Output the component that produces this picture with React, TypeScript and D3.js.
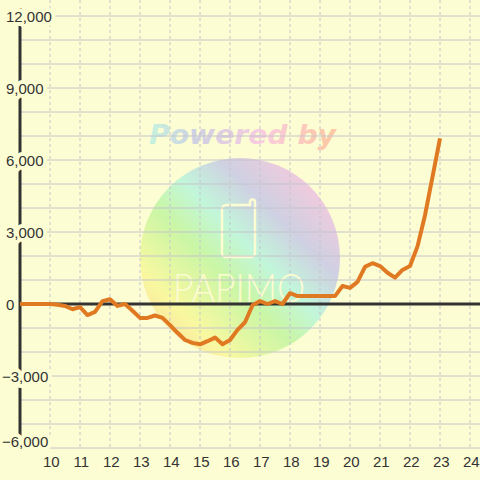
import React from "react";
import * as d3 from "d3";

// Balance series sampled every 15 minutes from 9:00 to 23:00
const startHour = 9;
const stepHours = 0.25;
const values = [
  0, 0, 0, 0, 0, -30, -80, -220, -130, -460, -330, 120, 200, -80, 0, -280,
  -580, -580, -480, -580, -880, -1200, -1500, -1620, -1680, -1550, -1400, -1680,
  -1500, -1080, -760, -50, 120, 0, 120, 0, 450, 330, 330, 330, 330, 330, 330,
  750, 670, 920, 1550, 1700, 1580, 1300, 1100, 1420, 1580, 2400, 3700, 5300, 6900,
];
const xTicks = [10, 11, 12, 13, 14, 15, 16, 17, 18, 19, 20, 21, 22, 23, 24];
const yTicks = [12000, 9000, 6000, 3000, 0, -3000, -6000];
const yGrid = d3.range(-6000, 12001, 1000);

const W = 480;
const H = 480;
const BG = "#fdfdd3";

export default function App() {
  const x = d3.scaleLinear().domain([9, 24.333]).range([20, 480]);
  const y = d3.scaleLinear().domain([-6000, 12000]).range([448, 16]);
  const pts = values.map((v, i) => [startHour + i * stepHours, v] as [number, number]);
  const line = d3
    .line<[number, number]>()
    .x((d) => x(d[0]))
    .y((d) => y(d[1]));
  const font = "'Liberation Sans', Arial, sans-serif";
  return (
    <svg
      width={W}
      height={H}
      style={{ position: "absolute", left: 0, top: 0, display: "block" }}
    >
      <defs>
        <linearGradient id="circ" x1="0" y1="1" x2="1" y2="0">
          <stop offset="0" stopColor="#fccf9e" />
          <stop offset="0.22" stopColor="#f9f8a0" />
          <stop offset="0.42" stopColor="#c9f6a6" />
          <stop offset="0.55" stopColor="#c2f6da" />
          <stop offset="0.7" stopColor="#cfd0e2" />
          <stop offset="0.9" stopColor="#f9c9dc" />
        </linearGradient>
        <linearGradient id="pw" x1="0" y1="0" x2="1" y2="0">
          <stop offset="0" stopColor="#c6f3de" />
          <stop offset="0.25" stopColor="#cfd0e2" />
          <stop offset="0.6" stopColor="#f9cce0" />
          <stop offset="1" stopColor="#fcc89e" />
        </linearGradient>
      </defs>
      <rect x={0} y={0} width={W} height={H} fill={BG} />
      {/* watermark */}
      <circle cx={240} cy={258} r={100} fill="url(#circ)" />
      <text
        x={149}
        y={144}
        fontFamily="'DejaVu Sans', Verdana, sans-serif"
        fontWeight="bold"
        fontStyle="italic"
        fontSize={27}
        fill="url(#pw)"
        textLength={187}
        lengthAdjust="spacingAndGlyphs"
      >
        Powered by
      </text>
      <path
        d="M228,205 h22 v-3 a2.5,2.5 0 0 1 5,0 v51 a4,4 0 0 1 -4,4 h-25 a4,4 0 0 1 -4,-4 v-44 a4,4 0 0 1 4,-4 z"
        fill="none"
        stroke="#fdfbd2"
        strokeWidth={2.5}
      />
      <text
        x={239}
        y={302}
        textAnchor="middle"
        fontFamily="Lato, 'DejaVu Sans', sans-serif"
        fontWeight={300}
        fontSize={39}
        fill="#fdfbd2"
        textLength={132}
        lengthAdjust="spacingAndGlyphs"
      >
        PAPIMO
      </text>
      {/* grid */}
      {yGrid.map((v) => (
        <line
          key={"h" + v}
          x1={20}
          x2={480}
          y1={y(v)}
          y2={y(v)}
          stroke="#c4c4cc"
          strokeWidth={1}
        />
      ))}
      {xTicks.map((t) => (
        <line
          key={"v" + t}
          x1={x(t)}
          x2={x(t)}
          y1={0}
          y2={448}
          stroke="#c4c4cc"
          strokeWidth={1}
          strokeDasharray="3,3"
        />
      ))}
      {/* axes */}
      <line x1={20} x2={480} y1={y(0)} y2={y(0)} stroke="#333" strokeWidth={3} />
      <line x1={20} x2={20} y1={8} y2={448} stroke="#333" strokeWidth={3} />
      {/* series */}
      <path
        d={line(pts) || ""}
        fill="none"
        stroke="#e07a22"
        strokeWidth={4}
        strokeLinejoin="round"
      />
      {/* y labels */}
      {yTicks.map((v) => (
        <text
          key={"yl" + v}
          x={v < 0 ? 2 : 6}
          y={Math.min(y(v) + 5.5, 447)}
          fontFamily={font}
          fontSize={15}
          fill="#333"
          stroke={BG}
          strokeWidth={8}
          strokeLinejoin="round"
          style={{ paintOrder: "stroke" }}
        >
          {d3.format(",")(v)}
        </text>
      ))}
      {/* x labels */}
      {xTicks.map((t) => (
        <text
          key={"xl" + t}
          x={x(t) + 1.3}
          y={466.5}
          textAnchor="middle"
          fontFamily={font}
          fontSize={15}
          fill="#333"
        >
          {t}
        </text>
      ))}
    </svg>
  );
}
